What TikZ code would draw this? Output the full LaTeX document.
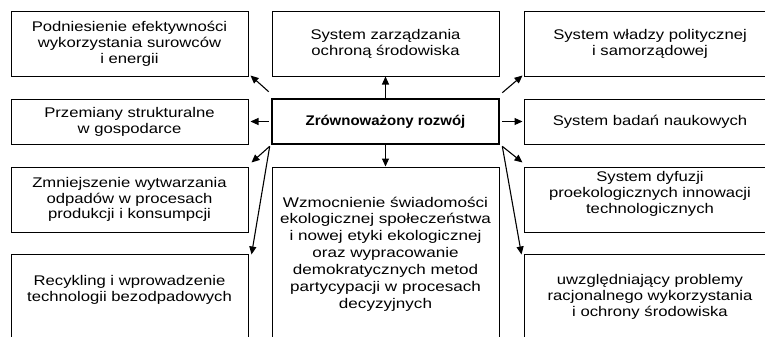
\documentclass[tikz,border=0pt]{standalone}
\usepackage{fontspec}
\setmainfont{Liberation Sans}
\newfontfamily\regf[FakeStretch=1.19]{Liberation Sans}
\newfontfamily\widef[FakeStretch=1.22]{Liberation Sans}
\newfontfamily\boldf[FakeStretch=1.07]{Liberation Sans Bold}
\usetikzlibrary{arrows.meta}
\begin{document}
\begin{tikzpicture}[x=1pt,y=-1pt,
  box/.style={draw=black, line width=1pt, inner sep=0pt, align=center,
    font=\regf\fontsize{14}{15.8}\selectfont, minimum width=237pt},
  mbox/.style={box, minimum width=227pt},
  rbox/.style={box, minimum width=252pt},
  txt/.style={inner sep=0pt, align=center, font=\regf\fontsize{14}{15.8}\selectfont},
  arr/.style={line width=1.1pt, -{Triangle[length=8pt,width=7pt]}}]
\clip (0,0) rectangle (765,337);
\fill[white] (0,0) rectangle (765,337);
% left column
\node[box, minimum height=64pt] (L1) at (129.5,44) {Podniesienie efektywności\\wykorzystania surowców\\i energii};
\node[box, minimum height=45pt] (L2) at (129.5,121.5) {Przemiany strukturalne\\w gospodarce};
\node[box, minimum height=65pt] (L3) at (129.5,199.5) {Zmniejszenie wytwarzania\\odpadów w procesach\\produkcji i konsumpcji};
\node[box, minimum height=100pt] (L4) at (129.5,304) {};
\node[txt] (L4t) at (129.5,290) {Recykling i wprowadzenie\\technologii bezodpadowych};
% middle column
\node[mbox, minimum height=64pt] (M1) at (385.5,44) {System zarządzania\\ochroną środowiska};
\node[mbox, minimum height=45pt, line width=2.6pt, font=\boldf\fontsize{14}{15.8}\selectfont] (C) at (385.5,121.5) {Zrównoważony rozwój};
\node[mbox, minimum height=193pt] (M2) at (385.5,263.5) {};
\node[txt, font=\widef\fontsize{14}{16.9}\selectfont] (M2t) at (385.5,254) {Wzmocnienie świadomości\\ekologicznej społeczeństwa\\i nowej etyki ekologicznej\\oraz wypracowanie\\demokratycznych metod\\partycypacji w procesach\\decyzyjnych};
% right column
\node[rbox, minimum height=64pt] (R1) at (650,44) {System władzy politycznej\\i samorządowej};
\node[rbox, minimum height=45pt] (R2) at (650,121.5) {System badań naukowych};
\node[rbox, minimum height=65pt] (R3) at (650,199.5) {};
\node[txt] (R3t) at (650,194) {System dyfuzji\\proekologicznych innowacji\\technologicznych};
\node[rbox, minimum height=100pt] (R4) at (650,304) {};
\node[txt] (R4t) at (650,297) {uwzględniający problemy\\racjonalnego wykorzystania\\i ochrony środowiska};
% connectors
\draw[arr] ([shift={(-2,-6)}]C.north west) -- ([shift={(2,-1)}]L1.south east);
\draw[arr] ([xshift=-2pt]C.west) -- ([xshift=2pt]L2.east);
\draw[arr] ([shift={(-1,1)}]C.south west) -- ([shift={(3,-4)}]L3.north east);
\draw[arr] ([shift={(-1,1)}]C.south west) -- ([shift={(3,1)}]L4.north east);
\draw[arr] (C.north) -- (M1.south);
\draw[arr] (C.south) -- (M2.north);
\draw[arr] ([shift={(2,-5)}]C.north east) -- ([shift={(-1,-1)}]R1.south west);
\draw[arr] ([xshift=2pt]C.east) -- ([xshift=-1pt]R2.west);
\draw[arr] ([shift={(2,1)}]C.south east) -- ([shift={(-1,-4)}]R3.north west);
\draw[arr] ([shift={(2,1)}]C.south east) -- ([shift={(-2,1)}]R4.north west);
\end{tikzpicture}
\end{document}
